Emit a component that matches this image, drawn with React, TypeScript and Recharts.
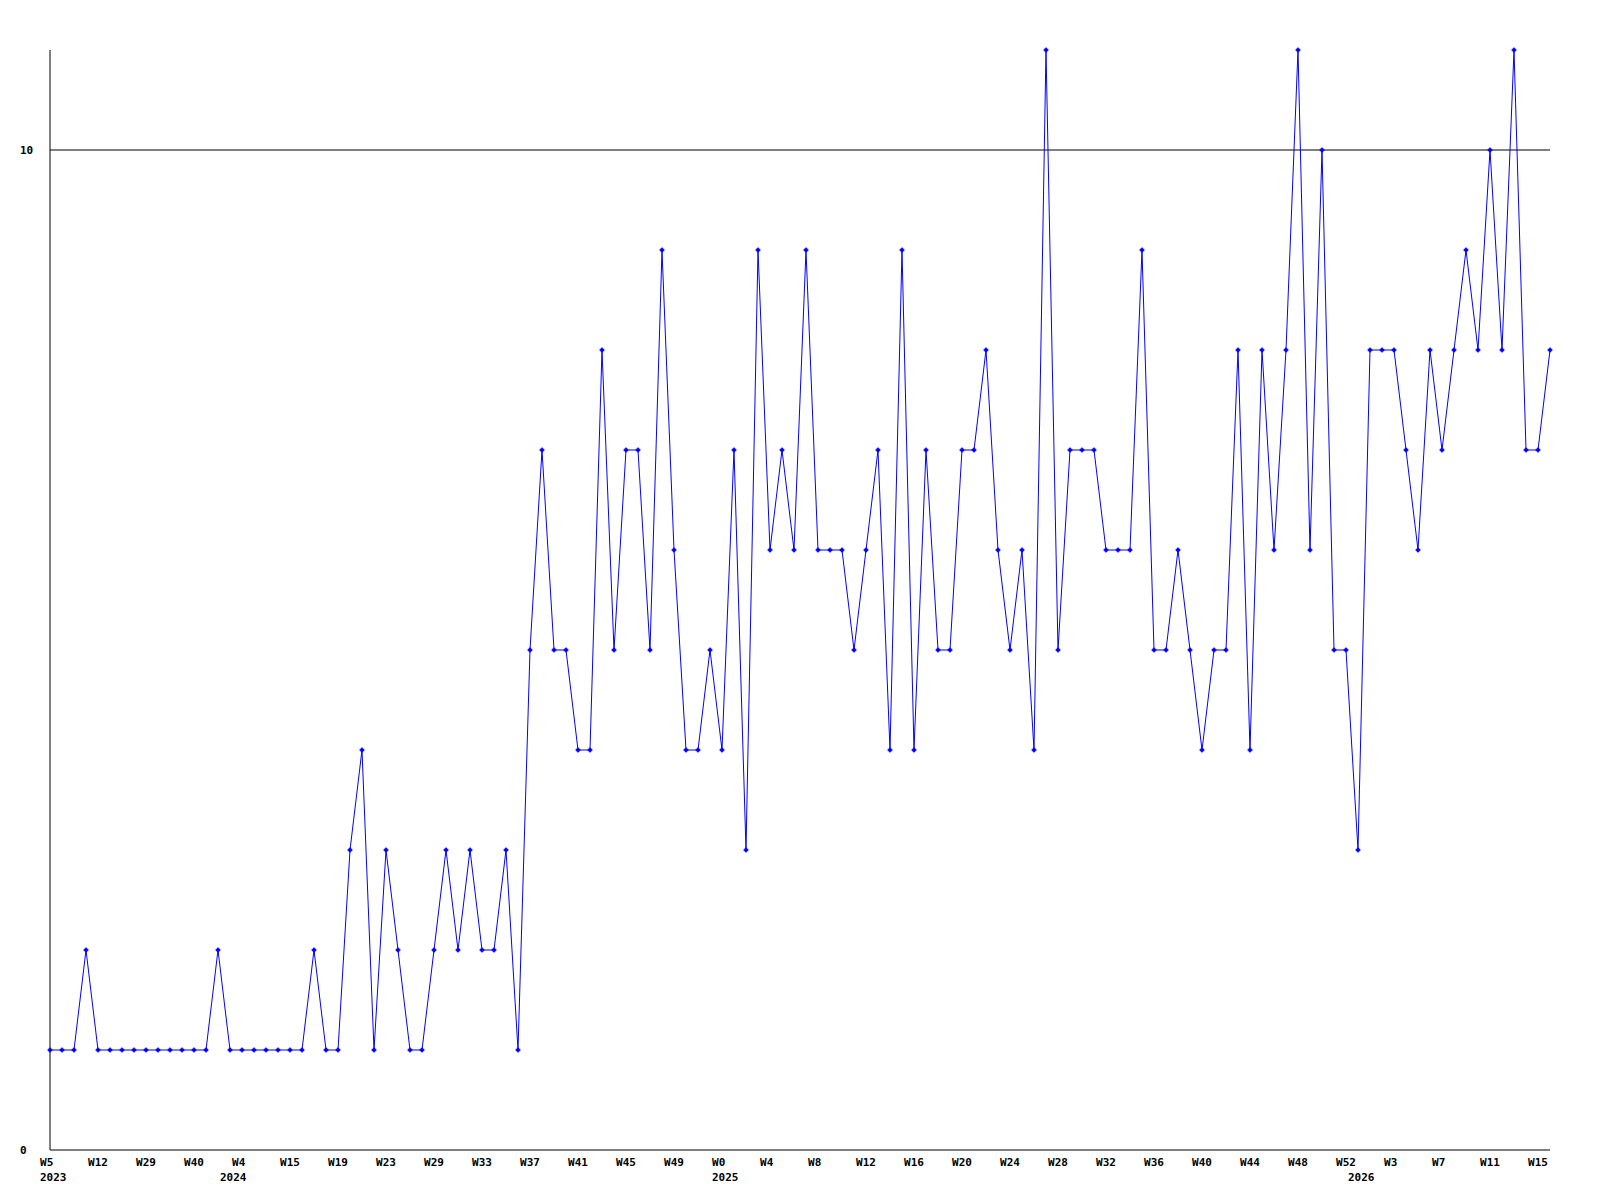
import React from 'react'
import { LineChart, Line, XAxis, YAxis, ReferenceLine } from 'recharts'

// week number of each point, year it belongs to, and the count for that week
const weeks = [
    5, 6, 8, 10, 12, 16, 20, 25, 29, 32, 35, 38, 40, 44, 49,
    2, 4, 7, 10, 13, 15, 16, 17, 18, 19, 20, 21, 22, 23, 24, 26, 27, 29, 30, 31, 32, 33, 34, 35, 36,
    37, 38, 39, 40, 41, 42, 43, 44, 45, 46, 47, 48, 49, 50, 51, 52,
    0, 1, 2, 3, 4, 5, 6, 7, 8, 9, 10, 11, 12, 13, 14, 15, 16, 17, 18, 19, 20, 21, 22, 23, 24, 25, 26,
    27, 28, 29, 30, 31, 32, 33, 34, 35, 36, 37, 38, 39, 40, 41, 42, 43, 44, 45, 46, 47, 48, 49, 50, 51, 52,
    0, 1, 2, 3, 4, 5, 6, 7, 8, 9, 10, 11, 12, 13, 14, 15, 16,
]

const yearStarts = [
    { year: 2023, count: 15 },
    { year: 2024, count: 41 },
    { year: 2025, count: 53 },
    { year: 2026, count: 17 },
]

const counts = [
    1, 1, 1, 2, 1, 1, 1, 1, 1, 1, 1, 1, 1, 1, 2, 1, 1, 1, 1, 1,
    1, 1, 2, 1, 1, 3, 4, 1, 3, 2, 1, 1, 2, 3, 2, 3, 2, 2, 3, 1,
    5, 7, 5, 5, 4, 4, 8, 5, 7, 7, 5, 9, 6, 4, 4, 5, 4, 7, 3, 9,
    6, 7, 6, 9, 6, 6, 6, 5, 6, 7, 4, 9, 4, 7, 5, 5, 7, 7, 8, 6,
    5, 6, 4, 11, 5, 7, 7, 7, 6, 6, 6, 9, 5, 5, 6, 5, 4, 5, 5, 8,
    4, 8, 6, 8, 11, 6, 10, 5, 5, 3, 8, 8, 8, 7, 6, 8, 7, 8, 9, 8,
    10, 8, 11, 7, 7, 8,
]

const yTicks = [0, 10]

const years: number[] = []
yearStarts.forEach(y => {
    for (let i = 0; i < y.count; i++) years.push(y.year)
})

const data = counts.map((value, i) => ({
    key: `${years[i]}-W${weeks[i]}`,
    week: weeks[i],
    year: years[i],
    value,
}))

const labelFont = {
    fontFamily: '"DejaVu Sans Mono", monospace',
    fontSize: 11,
    fontWeight: 'bold' as const,
    fill: '#000',
}

function XTick(props: any) {
    const { x, payload } = props
    const i = data.findIndex(d => d.key === payload.value)
    if (i < 0) return null
    const showWeek = i % 4 === 0
    const showYear = i === 0 || data[i - 1].year !== data[i].year
    return (
        <g>
            {showWeek && (
                <text x={x - 10} y={1166} textAnchor="start" {...labelFont}>
                    W{data[i].week}
                </text>
            )}
            {showYear && (
                <text x={x - 10} y={1181} textAnchor="start" {...labelFont}>
                    {data[i].year}
                </text>
            )}
        </g>
    )
}

function YTick(props: any) {
    const { y, payload } = props
    return (
        <text x={20} y={y + 4} textAnchor="start" {...labelFont}>
            {payload.value}
        </text>
    )
}

function Marker(props: any) {
    const { cx, cy, index } = props
    if (cx == null || cy == null) return null
    return (
        <path
            key={`dot-${index}`}
            d={`M${cx},${cy - 2.5} L${cx + 2.5},${cy} L${cx},${cy + 2.5} L${cx - 2.5},${cy} Z`}
            fill="#0000ff"
            stroke="#0000ff"
            strokeWidth={0.5}
        />
    )
}

function App() {
    return (
        <div style={{ position: 'absolute', left: 0, top: 0, background: '#fff' }}>
            <LineChart width={1600} height={1200} data={data} margin={{ top: 50, right: 50, bottom: 0, left: 0 }}>
                <XAxis
                    dataKey="key"
                    interval={0}
                    tick={<XTick />}
                    tickLine={false}
                    axisLine={{ stroke: '#000' }}
                    height={50}
                />
                <YAxis
                    domain={[0, 11]}
                    ticks={yTicks}
                    width={50}
                    tick={<YTick />}
                    tickLine={false}
                    axisLine={{ stroke: '#000' }}
                />
                <ReferenceLine y={10} stroke="#000" strokeWidth={1} />
                <Line
                    type="linear"
                    dataKey="value"
                    stroke="#0000ff"
                    strokeWidth={1}
                    dot={<Marker />}
                    activeDot={false}
                    isAnimationActive={false}
                />
            </LineChart>
        </div>
    )
}

export default App
